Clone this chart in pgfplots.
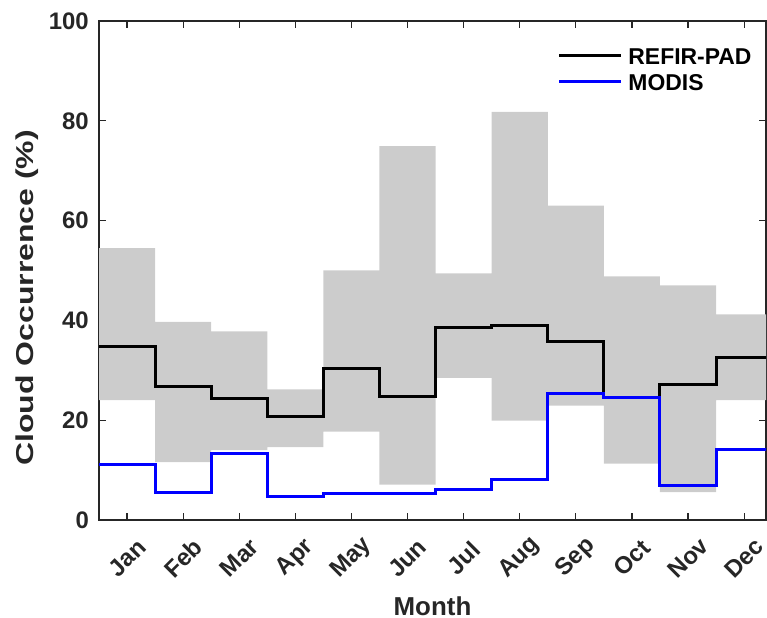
\documentclass[border=0pt]{standalone}
\usepackage{fontspec}
\setmainfont{Liberation Sans}
\usepackage{graphicx}
\usepackage{pgfplots}
\pgfplotsset{compat=1.18}
\usepackage{pgfplotstable}
\usepgfplotslibrary{fillbetween}

\definecolor{axgray}{rgb}{0.15,0.15,0.15}
\definecolor{bandgray}{rgb}{0.8,0.8,0.8}

% Monthly cloud occurrence (%), step edges at month boundaries;
% last row repeats December to close the final step.
\pgfplotstableread{
x     lo    hi    refir  modis
0.5   24.0  54.5  34.7   11.2
1.5   11.6  39.7  26.7   5.5
2.5   14.0  37.8  24.4   13.4
3.5   14.6  26.2  20.7   4.7
4.5   17.7  50.0  30.3   5.3
5.5   7.1   74.9  24.7   5.3
6.5   28.5  49.4  38.6   6.2
7.5   19.9  81.8  39.0   8.2
8.5   22.9  63.0  35.7   25.3
9.5   11.3  48.8  24.6   24.5
10.5  5.6   47.0  27.1   7.0
11.5  24.0  41.2  32.5   14.2
12.5  24.0  41.2  32.5   14.2
}\cloud

\begin{document}
\begin{tikzpicture}
\begin{axis}[
  scale only axis,
  width=667bp, height=499bp,
  xmin=0.5, xmax=12.39,
  ymin=0, ymax=100,
  ytick={0,20,...,100},
  xtick={1,...,12},
  xticklabels={Jan,Feb,Mar,Apr,May,Jun,Jul,Aug,Sep,Oct,Nov,Dec},
  tick align=inside,
  major tick length=7bp,
  axis line style={axgray, line width=1.4bp},
  every tick/.style={axgray, line width=1.2bp},
  /pgf/number format/assume math mode=true,
  tick label style={font=\fontsize{24}{28}\selectfont\bfseries, text=axgray},
  yticklabel style={inner sep=0pt, anchor=east, xshift=-10bp},
  xticklabel style={inner sep=0pt, rotate=45, anchor=center},
  xticklabel shift=38bp,
  xlabel={Month},
  xlabel style={font=\fontsize{26}{30}\selectfont\bfseries, text=axgray,
    at={(axis description cs:0.5,-0.191)}, anchor=base, inner sep=0pt},
  ylabel={\scalebox{1.31}[1]{Cloud Occurrence (\%)}},
  ylabel style={font=\fontsize{24.5}{28}\selectfont\bfseries, text=axgray,
    at={(axis description cs:-0.0975,0.445)}, anchor=base, inner sep=0pt},
  legend style={at={(axis description cs:0.690,0.948)}, anchor=north west,
    draw=none, fill=none, inner sep=0pt, row sep=9bp,
    font=\fontsize{23}{27}\selectfont\bfseries,
    nodes={inner sep=0pt, text height=17bp, text depth=0bp},
    /tikz/every odd column/.append style={column sep=7bp}},
  legend cell align=left,
  legend image code/.code={%
    \path[draw=none, fill=none, use as bounding box] (0bp,-1bp) rectangle (62bp,1bp);
    \draw[#1] (0bp,0bp) -- (62bp,0bp);},
]
\addplot[name path=upper, const plot mark left, draw=none, forget plot] table[x=x, y=hi] {\cloud};
\addplot[name path=lower, const plot mark left, draw=none, forget plot] table[x=x, y=lo] {\cloud};
\addplot[bandgray, forget plot] fill between[of=upper and lower];
\addplot[const plot mark left, black, line width=3bp] table[x=x, y=refir] {\cloud};
\addlegendentry{REFIR-PAD}
\addplot[const plot mark left, blue, line width=3bp] table[x=x, y=modis] {\cloud};
\addlegendentry{MODIS}
\end{axis}
\pgfresetboundingbox
\path[use as bounding box] (current axis.south west) ++(-99bp,-98bp)
  rectangle ([xshift=1bp,yshift=21bp]current axis.north east);
\end{tikzpicture}
\end{document}
